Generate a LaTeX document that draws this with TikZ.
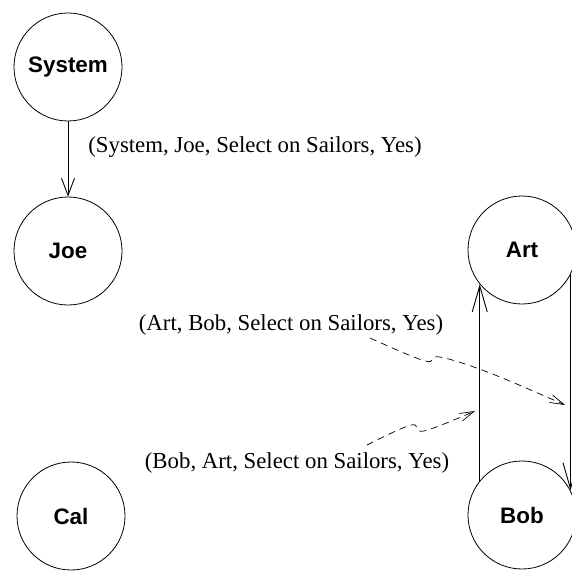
\documentclass[tikz,border=0pt]{standalone}
\usepackage{fontspec}
\setmainfont{Liberation Serif}
\setsansfont{Liberation Sans}
\usetikzlibrary{arrows.meta}

\tikzset{
  agent/.style={draw,circle,line width=0.8pt,minimum size=108pt,inner sep=0pt,
    font=\fontsize{22.4}{26}\selectfont\sffamily\bfseries},
  msg/.style={font=\fontsize{22.8}{26}\selectfont},
  grant/.style={line width=0.9pt,-{Straight Barb[length=17pt,width=13pt]}},
  longgrant/.style={line width=0.9pt,-{Straight Barb[length=26pt,width=15pt]}},
  flow/.style={line width=0.7pt,dash pattern=on 7pt off 5pt,
    -{Straight Barb[length=14pt,width=8pt]}}
}

\begin{document}
\begin{tikzpicture}[x=1pt,y=-1pt]
\useasboundingbox (0,0) rectangle (571,572);
\node[agent] (System) at (68,67) {System};
\node[agent] (Joe) at (68,251) {Joe};
\node[agent] (Cal) at (71,516) {Cal};
\node[agent] (Art) at (522,250) {Art};
\node[agent] (Bob) at (522,515) {Bob};

\draw[grant] (System) -- (Joe);
\draw[longgrant] (Bob.141) -- (Art.-141);
\draw[longgrant] (Art.-27) -- (Bob.27);

\node[msg] (sj) at (255,147) {(System, Joe, Select on Sailors, Yes)};
\node[msg] (ab) at (291,325) {(Art, Bob, Select on Sailors, Yes)};
\node[msg] (ba) at (297,463) {(Bob, Art, Select on Sailors, Yes)};

\coordinate (abfrom) at (370,338);
\coordinate (abto) at (565,405);
\coordinate (bafrom) at (367,445);
\coordinate (bato) at (475,411);
\draw[flow] plot[smooth,tension=0.6] coordinates
  {(abfrom) (425,361) (440,357) (490,373) (abto)};
\draw[flow] plot[smooth,tension=0.6] coordinates
  {(bafrom) (411,425) (424,431) (bato)};
\end{tikzpicture}
\end{document}
